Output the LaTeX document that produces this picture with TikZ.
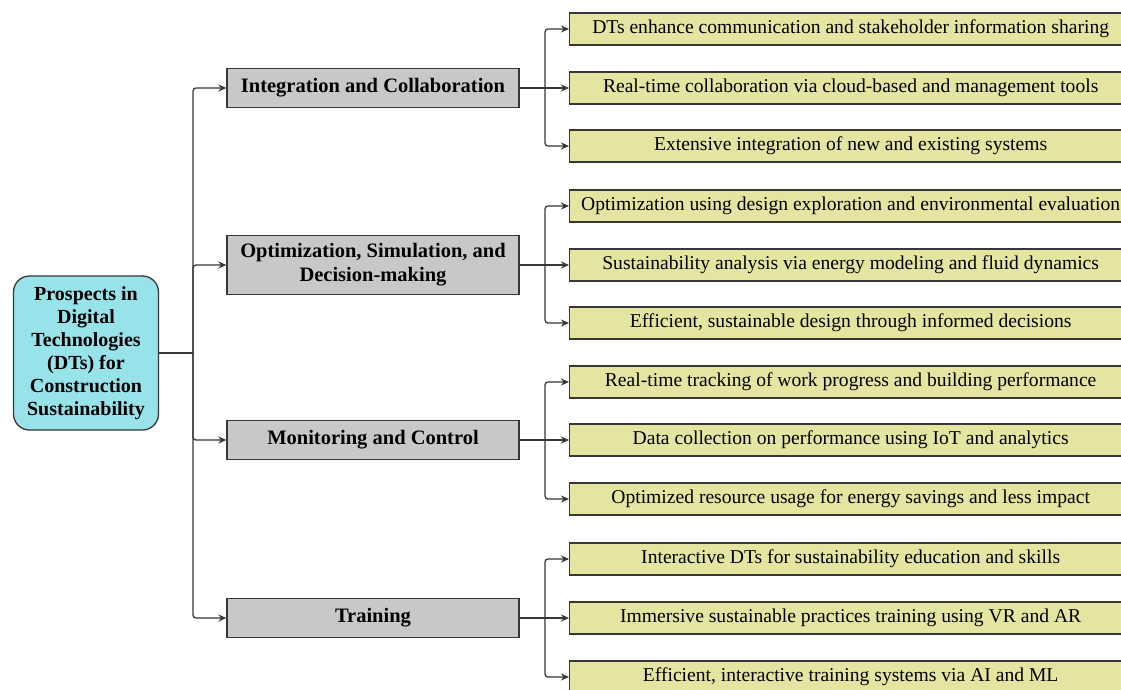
\documentclass[tikz,border=0pt]{standalone}
\usepackage{fontspec}
\setmainfont{Liberation Serif}
\usetikzlibrary{arrows.meta,positioning}
\definecolor{rootfill}{RGB}{152,226,234}
\definecolor{catfill}{RGB}{200,200,200}
\definecolor{leaffill}{RGB}{229,228,160}
\definecolor{linecol}{RGB}{55,55,55}

\begin{document}
\begin{tikzpicture}[x=1pt,y=-1pt]
    \tikzstyle{every node}+=[inner sep=0pt]
    \tikzstyle{rootbox}=[draw=linecol, line width=1.3pt, fill=rootfill, rounded corners=16pt,
        minimum width=145pt, minimum height=154pt, align=center,
        font=\bfseries\fontsize{20}{23}\selectfont]
    \tikzstyle{catbox}=[draw=linecol, line width=1.3pt, fill=catfill, minimum width=292pt,
        minimum height=39pt, align=center, font=\bfseries\fontsize{20.5}{24}\selectfont]
    \tikzstyle{leafbox}=[draw=linecol, line width=1.3pt, fill=leaffill, minimum width=562pt,
        minimum height=32pt, anchor=west, font=\fontsize{19.6}{23}\selectfont]
    \tikzstyle{link}=[draw=linecol, line width=1.3pt, rounded corners=3pt]
    \tikzstyle{arr}=[link, -{Stealth[length=8pt,width=7pt]}]
    \clip (0,0) rectangle (1121,689);
    \fill[white] (0,0) rectangle (1121,689);
    % root
    \node[rootbox] (root) at (86,353) {Prospects in\\Digital\\Technologies\\(DTs) for\\Construction\\Sustainability};
    % categories
    \node[catbox] (cat1) at (373,88) {Integration and Collaboration};
    \node[catbox, minimum height=59pt] (cat2) at (373,265) {Optimization, Simulation, and\\Decision-making};
    \node[catbox] (cat3) at (373,440) {Monitoring and Control};
    \node[catbox] (cat4) at (373,618) {Training};
    % leaves
    \node[leafbox] (l11) at (569,29) {DTs enhance communication and stakeholder information sharing};
    \node[leafbox] (l12) at (569,88) {Real-time collaboration via cloud-based and management tools};
    \node[leafbox] (l13) at (569,146) {Extensive integration of new and existing systems};
    \node[leafbox] (l21) at (569,206) {Optimization using design exploration and environmental evaluation};
    \node[leafbox] (l22) at (569,265) {Sustainability analysis via energy modeling and fluid dynamics};
    \node[leafbox] (l23) at (569,323) {Efficient, sustainable design through informed decisions};
    \node[leafbox] (l31) at (569,382) {Real-time tracking of work progress and building performance};
    \node[leafbox] (l32) at (569,440) {Data collection on performance using IoT and analytics};
    \node[leafbox] (l33) at (569,499) {Optimized resource usage for energy savings and less impact};
    \node[leafbox] (l41) at (569,559) {Interactive DTs for sustainability education and skills};
    \node[leafbox] (l42) at (569,618) {Immersive sustainable practices training using VR and AR};
    \node[leafbox] (l43) at (569,677) {Efficient, interactive training systems via AI and ML};
    % root to categories
    \coordinate (rj) at (193,353);
    \draw[link] (root.east) -- (rj);
    \draw[arr] (rj) |- (cat1.west);
    \draw[arr] (rj) |- (cat2.west);
    \draw[arr] (rj) |- (cat3.west);
    \draw[arr] (rj) |- (cat4.west);
    % categories to leaves
    \coordinate (c1j) at (545,88);
    \draw[link] (cat1.east) -- (c1j);
    \draw[arr] (c1j) |- (l11.west);
    \draw[arr] (c1j) -- (l12.west);
    \draw[arr] (c1j) |- (l13.west);
    \coordinate (c2j) at (545,265);
    \draw[link] (cat2.east) -- (c2j);
    \draw[arr] (c2j) |- (l21.west);
    \draw[arr] (c2j) -- (l22.west);
    \draw[arr] (c2j) |- (l23.west);
    \coordinate (c3j) at (545,440);
    \draw[link] (cat3.east) -- (c3j);
    \draw[arr] (c3j) |- (l31.west);
    \draw[arr] (c3j) -- (l32.west);
    \draw[arr] (c3j) |- (l33.west);
    \coordinate (c4j) at (545,618);
    \draw[link] (cat4.east) -- (c4j);
    \draw[arr] (c4j) |- (l41.west);
    \draw[arr] (c4j) -- (l42.west);
    \draw[arr] (c4j) |- (l43.west);
\end{tikzpicture}
\end{document}
